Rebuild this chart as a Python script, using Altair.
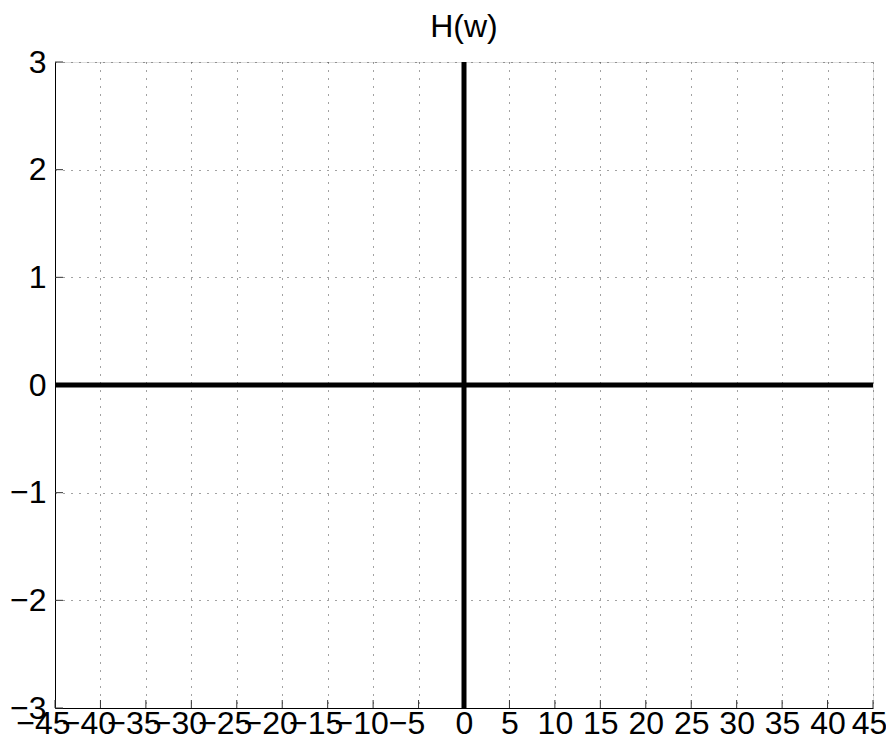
import altair as alt
import pandas as pd

# Tick values
x_ticks = list(range(-45, 50, 5))
y_ticks = [-3, -2, -1, 0, 1, 2, 3]

# Series: horizontal line along H=0, vertical line at w=0
h_w = [-45, 45]
h_val = [0, 0]
v_w = [0, 0]
v_val = [-3, 3]

title_text = "H(w)"

W, H = 818, 646
FONT = "Liberation Sans"

lines = pd.DataFrame({
    "w": h_w + v_w,
    "H": h_val + v_val,
    "seg": ["h", "h", "v", "v"],
    "ord": [0, 1, 0, 1],
})
xt = pd.DataFrame({"w": x_ticks})
yt = pd.DataFrame({"H": y_ticks})

xscale = alt.Scale(domain=[-45, 45], nice=False, zero=False)
yscale = alt.Scale(domain=[-3, 3], nice=False, zero=False)

xaxis = alt.Axis(values=x_ticks, title=None, ticks=False, tickSize=0, grid=True,
                 format="d",
                 gridDash=[1, 7], gridColor="#444", gridWidth=1,
                 domainColor="#000", domainWidth=1,
                 labelFont=FONT, labelFontSize=32, labelColor="#000",
                 labelPadding=0, labelOverlap=False, labelFlush=False,
                 labelBaseline="top",
                 labelOffset={"condition": [
                     {"test": "datum.value < 0", "value": -12},
                     {"test": "datum.value >= 45", "value": -4}],
                     "value": 0})
yaxis = alt.Axis(values=y_ticks, title=None, ticks=False, tickSize=0, grid=True,
                 format="d",
                 gridDash=[1, 7], gridColor="#444", gridWidth=1,
                 domainColor="#000", domainWidth=1,
                 labelFont=FONT, labelFontSize=32, labelColor="#000",
                 labelPadding=9, labelOverlap=False, labelFlush=False,
                 labelBaseline="middle")

base_lines = alt.Chart(lines).mark_line(color="black", strokeWidth=5, clip=True).encode(
    x=alt.X("w:Q", scale=xscale, axis=xaxis),
    y=alt.Y("H:Q", scale=yscale, axis=yaxis),
    detail="seg:N",
    order="ord:Q",
)

x_tick_marks = alt.Chart(xt).mark_rule(color="#333", strokeWidth=1).encode(
    x=alt.X("w:Q", scale=xscale),
    y=alt.value(H),
    y2=alt.value(H - 8),
)
y_tick_marks = alt.Chart(yt).mark_rule(color="#333", strokeWidth=1).encode(
    y=alt.Y("H:Q", scale=yscale),
    x=alt.value(0),
    x2=alt.value(8),
)

title_mark = alt.Chart(pd.DataFrame({"t": [title_text]})).mark_text(
    font=FONT, fontSize=32, color="#000", align="center", baseline="alphabetic"
).encode(
    text="t:N",
    x=alt.value(W / 2),
    y=alt.value(-25),
)

chart = alt.layer(x_tick_marks, y_tick_marks, base_lines, title_mark).properties(
    width=W,
    height=H,
    autosize=alt.AutoSizeParams(type="none"),
    padding={"left": 47, "top": 54, "right": 13, "bottom": 32},
).configure_view(stroke=None).configure(background="white")

chart.save("out.html", embed_options={"renderer": "svg", "actions": False})
